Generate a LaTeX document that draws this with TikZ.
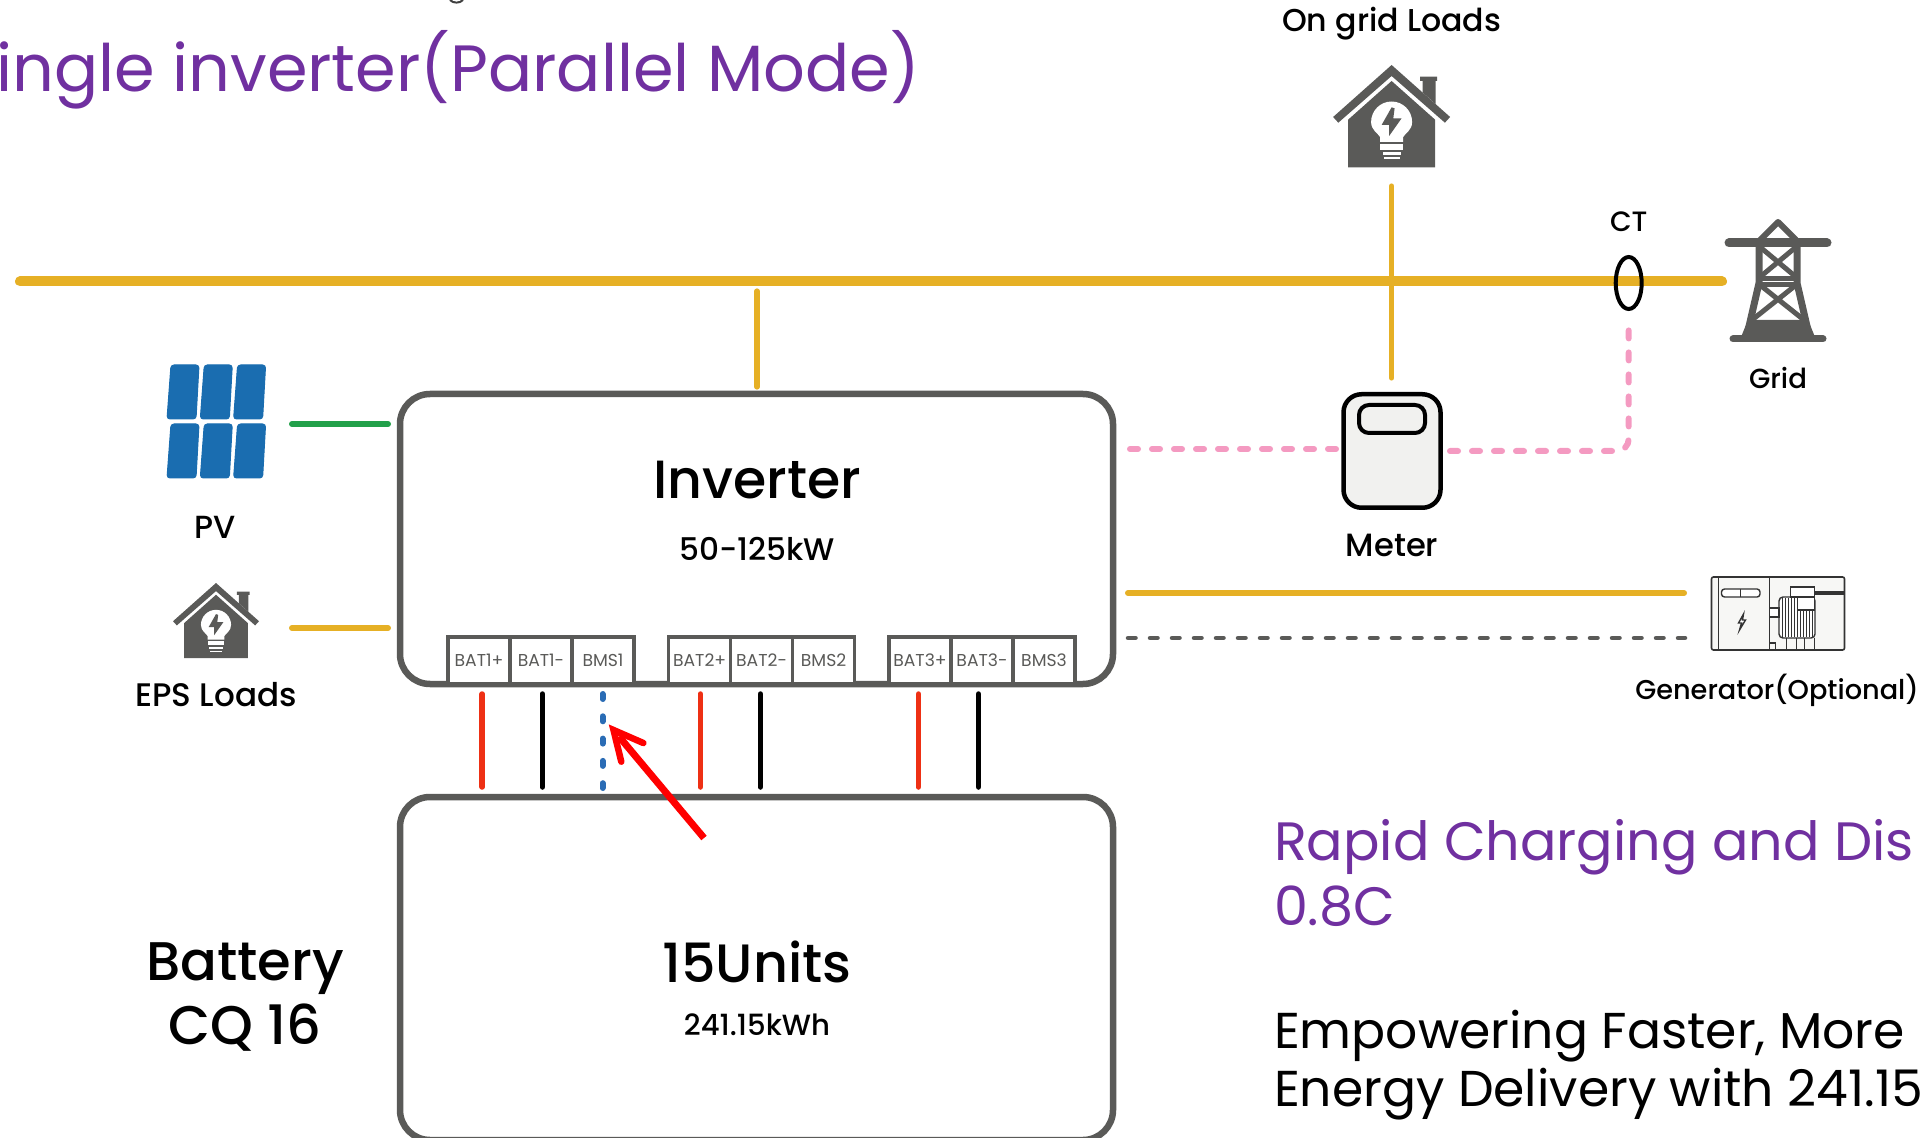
\documentclass[tikz,border=0pt]{standalone}
\usepackage{fontspec}
\usetikzlibrary{shapes.geometric}
\setmainfont{Poppins}
\newfontfamily\med{Poppins Medium}
\newcommand{\fsz}[1]{\fontsize{#1}{#1}\selectfont}
\definecolor{goldc}{HTML}{E6B025}
\definecolor{grayc}{HTML}{5A5A58}
\definecolor{pinkc}{HTML}{F49AC1}
\definecolor{purplec}{HTML}{7030A0}
\definecolor{redc}{HTML}{EE3014}
\definecolor{greenc}{HTML}{22A04A}
\definecolor{panelc}{HTML}{1A6DB0}
\definecolor{bluec}{HTML}{2A6CB5}
\definecolor{meterc}{HTML}{F1F1EF}
\tikzset{
  lbl/.style={inner sep=0pt,outer sep=0pt,text=black},
  box/.style={draw=grayc,line width=3.25pt,rounded corners=15pt,outer sep=0pt,inner sep=0pt},
  port/.style={draw=grayc,line width=1.75pt,minimum width=31pt,minimum height=23.5pt,outer sep=0pt,inner sep=0pt,text=grayc,font=\fsz{8.6},fill=white},
  goldw/.style={draw=goldc,line width=3pt,line cap=round},
  goldt/.style={draw=goldc,line width=2.6pt,line cap=round},
  greenw/.style={draw=greenc,line width=3pt,line cap=round},
  pinkd/.style={draw=pinkc,line width=3pt,line cap=round,dash pattern=on 4pt off 7pt},
  grayd/.style={draw=grayc,line width=2.25pt,line cap=round,dash pattern=on 3.75pt off 7.25pt},
  bluew/.style={draw=bluec,line width=3pt,line cap=round,dash pattern=on 2.5pt off 8.65pt},
  redw/.style={draw=redc,line width=2.75pt,line cap=round},
  blackw/.style={draw=black,line width=2.75pt,line cap=round},
  panel/.style={fill=panelc,draw=panelc,line width=0.5pt,rounded corners=1.5pt},
  gline/.style={draw=black!80,line width=0.7pt},
  house/.pic={
    \fill[grayc] (0,0) -- (58.5,52) -- (53.3,57.7) -- (0,11) -- (-53.3,57.7) -- (-58.5,52) -- cycle;
    \fill[grayc] (28.4,11.7) -- (45.6,11.7) -- (45.6,16) -- (44,16) -- (44,39) -- (31,27.5) -- (31,16) -- (28.4,16) -- cycle;
    \fill[grayc] (0,16) -- (43.4,54.6) -- (43.4,102.3) -- (-43.4,102.3) -- (-43.4,54.6) -- cycle;
    \fill[white] (-11.5,77) -- (-11.5,72) .. controls (-14,68) and (-20.5,65) .. (-20.5,57) arc[start angle=180,end angle=360,radius=20.5] .. controls (20.5,65) and (14,68) .. (11.5,72) -- (11.5,77) -- cycle;
    \fill[white] (-11.5,79) rectangle (11.5,85);
    \fill[white] (-9,87) rectangle (9,90);
    \fill[white] (-8,92) rectangle (8,94.5);
    \fill[grayc] (0,42.3) -- (-10,60) -- (-2.5,60) -- (-2.5,71) -- (10,53.3) -- (1.7,53.3) -- (3,43.3) -- cycle;
  }
}
\begin{document}
\begin{tikzpicture}[x=0.5pt,y=-0.5pt]
\useasboundingbox (0,0) rectangle (1921,1138);
\clip (0,0) rectangle (1921,1138);
% titles and texts
\draw[black!75,line width=1pt] (450,0) .. controls (453,3.5) and (460,3.5) .. (463,0);
\node[lbl,anchor=base east,text=purplec,font=\fsz{32.7}] (title) at (920,92) {ingle inverter(Parallel Mode)};
\node[lbl,anchor=base west,text=purplec,font=\fsz{27}] (rapid) at (1274,860) {Rapid Charging and Dis};
\node[lbl,anchor=base west,text=purplec,font=\fsz{27}] (rate) at (1274,925) {0.8C};
\node[lbl,anchor=base west,font=\fsz{25.2}] (emp) at (1274,1048) {Empowering Faster, More};
\node[lbl,anchor=base west,font=\fsz{25.2}] (ene) at (1274,1106) {Energy Delivery with 241.15};
% boxes
\node[box,minimum width=356.5pt,minimum height=145pt] (inv) at (756.5,539) {};
\node[box,minimum width=356.5pt,minimum height=171.5pt] (bat) at (756.5,968.5) {};
\node[lbl,font=\med\fsz{26.9}] (invt) at (757,480) {Inverter};
\node[lbl,font=\med\fsz{15.6}] (invk) at (757,549) {50-125kW};
\node[lbl,font=\med\fsz{27}] (units) at (757,962) {15Units};
\node[lbl,font=\med\fsz{14.6}] (batk) at (757,1025) {241.15kWh};
\node[lbl,anchor=base,font=\med\fsz{27.2}] (batt) at (245,980) {Battery};
\node[lbl,anchor=base,font=\med\fsz{27.2}] (cq) at (245,1044) {CQ 16};
% ports
\foreach \n/\cx/\t in {p1/479/BAT1+,p2/541/BAT1-,p3/603/BMS1,p4/699.6/BAT2+,p5/761.6/BAT2-,p6/823.6/BMS2,p7/920/BAT3+,p8/982/BAT3-,p9/1044/BMS3}
  \node[port] (\n) at (\cx,660.5) {\t};
% battery wires
\coordinate (w1a) at (482.2,694); \coordinate (w1b) at (482.2,787);
\coordinate (w2a) at (542.3,694); \coordinate (w2b) at (542.3,787);
\coordinate (w3a) at (602.5,694); \coordinate (w3b) at (602.5,788);
\coordinate (w4a) at (700.3,694); \coordinate (w4b) at (700.3,787);
\coordinate (w5a) at (760.4,694); \coordinate (w5b) at (760.4,787);
\coordinate (w6a) at (918.4,694); \coordinate (w6b) at (918.4,787);
\coordinate (w7a) at (978.5,694); \coordinate (w7b) at (978.5,787);
\draw[redw] (w1a) -- (w1b);
\draw[blackw] (w2a) -- (w2b);
\draw[bluew] (w3a) -- (w3b);
\draw[redw] (w4a) -- (w4b);
\draw[blackw] (w5a) -- (w5b);
\draw[redw] (w6a) -- (w6b);
\draw[blackw] (w7a) -- (w7b);
% red arrow
\coordinate (arT) at (704,838); \coordinate (arH) at (613.5,730);
\coordinate (arA) at (643.3,743); \coordinate (arB) at (621.3,761.7); \coordinate (arS) at (619,736.5);
\draw[red,line width=3.5pt] (arT) -- (arS);
\draw[red,line width=3.25pt,line cap=round,miter limit=10] (arA) -- (arH) -- (arB);
% bus
\coordinate (busL) at (20,281.5); \coordinate (busR) at (1722,281.5);
\coordinate (invU) at (757,291); \coordinate (invD) at (757,387);
\coordinate (ongU) at (1391.6,186); \coordinate (ongD) at (1391.6,378);
\draw[goldt] (ongU) -- (ongD);
\draw[goldw,line width=5pt] (busL) -- (busR);
\draw[goldt] (invU) -- (invD);
% on grid loads
\pic at (1391.6,65) {house};
\node[lbl,font=\med\fsz{15.8}] (ong) at (1391.6,24) {On grid Loads};
% CT
\node[draw=black,line width=2pt,ellipse,minimum width=13pt,minimum height=26pt,inner sep=0pt,outer sep=0pt] (ctr) at (1628.7,283) {};
\node[lbl,font=\med\fsz{14}] (ct) at (1628.7,222) {CT};
% grid tower
\begin{scope}[grayc]
\draw[line width=4.5pt,line cap=round] (1729,243) -- (1827,243);
\draw[line width=3.5pt,line cap=round] (1733,339) -- (1823,339);
\fill (1748,320) -- (1808,320) -- (1815,337) -- (1741,337) -- cycle;
\draw[line width=3pt,line join=round] (1760,240) -- (1778,222) -- (1796,240);
\draw[line width=3.5pt] (1759,243) -- (1759,283) -- (1747,335);
\draw[line width=3.5pt] (1797,243) -- (1797,283) -- (1809,335);
\draw[line width=2.5pt] (1760,247) -- (1796,277) (1796,247) -- (1760,277);
\draw[line width=2.5pt] (1759,279) -- (1797,279) (1758,285) -- (1798,285);
\draw[line width=2.5pt] (1760,285) -- (1804,320) (1796,285) -- (1752,320);
\end{scope}
\node[lbl,font=\med\fsz{13.8}] (grid) at (1778,378) {Grid};
% meter
\node[draw=black,fill=meterc,line width=2.25pt,rounded corners=9pt,minimum width=48.5pt,minimum height=56.75pt,inner sep=0pt,outer sep=0pt] (meter) at (1392,451) {};
\node[draw=black,fill=meterc,line width=2pt,rounded corners=5pt,minimum width=33pt,minimum height=14pt,inner sep=0pt,outer sep=0pt] (mwin) at (1392,419) {};
\node[lbl,font=\med\fsz{16.1}] (mtxt) at (1392,545) {Meter};
\coordinate (pkA) at (1130,449); \coordinate (pkB) at (1337,449);
\coordinate (pkC) at (1628.7,325); \coordinate (pkD) at (1628.7,451); \coordinate (pkE) at (1450,451);
\draw[pinkd] (pkA) -- (pkB);
\draw[pinkd,rounded corners=6pt] (pkE) -- (pkD) -- (pkC);
% generator
\coordinate (gnA) at (1128,593); \coordinate (gnB) at (1684,593);
\coordinate (gdA) at (1128,638); \coordinate (gdB) at (1685,638);
\draw[goldw] (gnA) -- (gnB);
\draw[grayd] (gdA) -- (gdB);
\begin{scope}[xshift=-1.25pt]
\node[draw=black!80,fill=meterc!60!white,line width=0.8pt,rounded corners=1pt,minimum width=66.5pt,minimum height=36.5pt,inner sep=0pt,outer sep=0pt] (gen) at (1780.5,613.5) {};
\draw[gline] (1721,577) -- (1721,650) (1772,577) -- (1772,650) (1817,592) -- (1847,592) (1817,594) -- (1847,594);
\draw[gline,fill=white,rounded corners=1.5pt] (1724,589) rectangle (1762.5,597);
\draw[gline] (1743,589) -- (1743,597);
\draw[gline,fill=white] (1746,614) -- (1741,623) -- (1744,623) -- (1742,630) -- (1748,620) -- (1745,620) -- cycle;
\draw[gline,fill=white,rounded corners=2pt] (1781.5,597) rectangle (1817.5,638);
\foreach \xx in {1785,1788,...,1816} \draw[black!80,line width=0.5pt] (\xx,598) -- (\xx,637);
\draw[gline,fill=white] (1793,587) rectangle (1817,597);
\draw[gline,fill=white] (1800,597) rectangle (1817,610);
\draw[gline,fill=white] (1772,608) rectangle (1781.5,617);
\draw[gline] (1789,638) -- (1789,650) (1799,638) -- (1799,650) (1807,638) -- (1807,650) (1817,638) -- (1817,650);
\draw[gline] (1772,643) -- (1778,643) -- (1778,650);
\end{scope}
\node[lbl,font=\med\fsz{13.6}] (gtxt) at (1777,690) {Generator(Optional)};
% PV
\foreach \dx in {0,33.3,66.6}{
  \fill[panel] (171+\dx,365) -- (199+\dx,365) -- (196+\dx,419) -- (167+\dx,419) -- cycle;
  \fill[panel] (171+\dx,424) -- (199+\dx,424) -- (196+\dx,478) -- (167+\dx,478) -- cycle;
}
\node[lbl,font=\med\fsz{16}] (pvt) at (215,527) {PV};
\coordinate (pvA) at (292,424); \coordinate (pvB) at (388,424);
\draw[greenw] (pvA) -- (pvB);
% EPS
\pic[scale=0.735] at (216,583) {house};
\node[lbl,font=\med\fsz{16.3}] (eps) at (216,695) {EPS Loads};
\coordinate (epA) at (292,628); \coordinate (epB) at (388,628);
\draw[goldw] (epA) -- (epB);
\end{tikzpicture}
\end{document}
